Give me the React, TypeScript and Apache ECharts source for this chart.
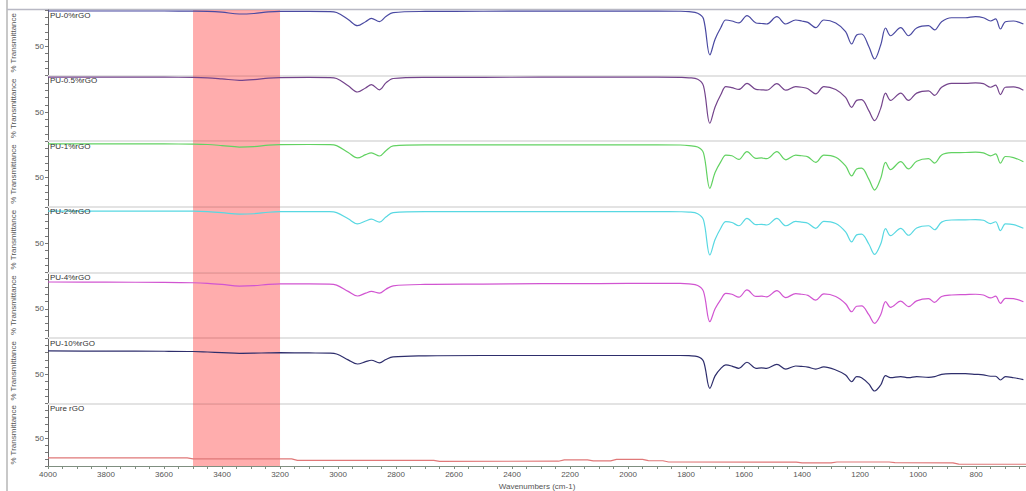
import { useEffect, useRef } from "react";
import * as echarts from "echarts";

// Shared wavenumber grid (cm-1) for the PU film spectra
const wavenumbers = [
  4000, 3800, 3600, 3500, 3450, 3400, 3340, 3290, 3240, 3200, 3100, 3030, 3005, 2965, 2933, 2905,
  2885, 2857, 2835, 2810, 2700, 2500, 2300, 2100, 1900, 1820, 1790, 1760, 1740, 1718, 1700, 1680,
  1663, 1642, 1618, 1590, 1559, 1540, 1522, 1487, 1456, 1422, 1401, 1380, 1353, 1325, 1284, 1250,
  1229, 1212, 1195, 1170, 1150, 1129, 1112, 1095, 1060, 1033, 1005, 964, 943, 919, 885, 837, 802,
  775, 750, 733, 716, 699, 671, 637,
];

const pu0 = [
  98.6, 98.6, 98.6, 98.5, 98.2, 97, 94.5, 95.2, 97.3, 98, 98, 97.8, 96.5, 87, 78.5, 84,
  88.5, 84, 91, 96.5, 98, 98.3, 98.5, 98.5, 98.5, 98.3, 97.7, 95.5, 88, 38.3, 60, 76,
  86.3, 84.9, 82.2, 92.2, 82.2, 81.5, 80.8, 90.8, 80.8, 86.3, 84.9, 83, 75.7, 86.3, 82.2, 70.2,
  53.4, 65.7, 67.1, 50, 32.8, 52, 75.3, 64.7, 75.7, 64.7, 75.3, 78.5, 72.6, 83.9, 89.4, 89.4, 90.8,
  89.4, 84.9, 87.7, 73.9, 83.9, 84.9, 80.8,
];

const pu05 = [
  97.8, 97.8, 97.8, 97.6, 97, 95.5, 93.5, 94.5, 96.5, 97.2, 97.5, 97.3, 96, 86, 77.5, 83,
  87.5, 80.5, 90, 96, 97.5, 97.6, 97.8, 97.8, 97.8, 97.5, 97, 95, 86, 34.6, 57, 74,
  85, 83.5, 81, 89.4, 81, 80.5, 80, 89, 80, 85, 84, 82, 75, 85, 81, 70,
  56.5, 66, 67, 52, 38.3, 55, 76, 66, 76, 66, 76, 79, 73, 84, 89.4, 89.4, 90,
  89, 84, 87, 74, 84, 84.5, 80,
];

const pu1 = [
  96.2, 96.2, 96.2, 96, 95.5, 94, 92, 92.5, 94.5, 95.2, 95.5, 95.3, 94, 84.5, 77, 81.5,
  84, 79.7, 87, 93.5, 95, 95, 95, 95, 95, 94.8, 94, 92, 84, 35.4, 57, 72,
  81, 80, 75, 85.6, 76.5, 77, 76, 85.6, 74.5, 81, 80, 78.5, 71, 81, 78, 66,
  52.3, 62, 63, 48, 33, 49, 71, 61, 72, 62, 72.5, 76, 70, 81, 84.2, 84.5, 85,
  84, 80, 82.5, 69.8, 79, 77.5, 71.9,
];

const pu2 = [
  94.2, 94.2, 94.2, 94, 93.3, 92, 90, 90.5, 92.5, 93.3, 93.5, 93.3, 92, 83.5, 76.7, 80.5,
  83, 79, 86, 92, 93.3, 93.3, 93.3, 93.3, 93.3, 93.2, 92.8, 90.5, 82, 33.9, 55, 71,
  79.6, 78.5, 74, 84.2, 75.5, 76, 75, 84, 74, 80, 79, 77.5, 70.5, 80, 77, 65.5,
  52, 61.5, 62.5, 49, 34.8, 49, 70, 60.5, 70.5, 61, 71, 74, 68.5, 79, 81.9, 82, 82.5,
  81.5, 77, 79.5, 67.2, 76.5, 75.5, 70.5,
];

const pu4 = [
  86.8, 86.6, 86.3, 85.8, 85, 83.5, 81.3, 81.8, 83.5, 84.2, 84.3, 84, 82.5, 74, 67.6, 71.5,
  74, 71.7, 77, 81.5, 83.5, 84, 84.5, 84.7, 85, 85, 84.2, 82, 74, 32.4, 50, 63,
  71.3, 70, 66, 75.9, 67, 67.5, 66.5, 75, 65.5, 71, 70, 68.5, 62, 70.5, 67, 57,
  46, 53.5, 54, 42, 30.2, 42, 60, 52, 60.5, 53, 61, 64, 59, 67, 69, 69.5, 70,
  69, 65, 67.5, 57.6, 64.5, 64, 59.8,
];

const pu10 = [
  82.2, 82, 81.8, 81.5, 80.8, 80, 79, 79.2, 79.6, 79.8, 79.5, 79.2, 78, 70, 64.3, 67.5,
  69.5, 66, 70.5, 74, 75.5, 76, 76, 76, 76, 76, 75.7, 74.5, 68, 31, 48, 58.4,
  63, 61.5, 58.4, 66.7, 58.4, 59, 58.4, 63.9, 57.4, 61.6, 61, 60, 57.4, 60.3, 56.1, 49.2,
  40, 46.9, 45.5, 37, 27.3, 35.5, 48.3, 45.5, 47, 45.5, 47, 46, 47, 50.2, 51, 51, 50.2,
  49.5, 47.5, 47.5, 42.4, 47, 45.5, 43,
];

// Pure rGO is nearly flat, with small step changes
const rgoWavenumbers = [
  4000, 3520, 3500, 3160, 3140, 2670, 2650, 2240, 2220, 2140, 2120, 2060, 2040, 1950, 1930, 1880,
  1860, 1420, 1400, 1300, 1280, 1100, 1080, 880, 860, 628,
];
const rgoValues = [
  21.7, 21.7, 20.3, 20.3, 18.1, 18.1, 16.7, 16.9, 18.9, 18.9, 17.4, 17.4, 19.5, 19.5, 17.8, 17.6,
  15.8, 15.5, 14.4, 14.4, 15.8, 15.8, 14.8, 14.5, 12.6, 12.5,
];

const sampleNames = ["PU-0%rGO", "PU-0.5%rGO", "PU-1%rGO", "PU-2%rGO", "PU-4%rGO", "PU-10%rGO", "Pure rGO"];
const lineColors = ["#4a4aa2", "#74448c", "#62d262", "#58d8e2", "#d155d1", "#2e2e6c", "#e07878"];
const xLabelValues = [4000, 3800, 3600, 3400, 3200, 3000, 2800, 2600, 2400, 2200, 2000, 1800, 1600, 1400, 1200, 1000, 800];
const yLabelValue = 50;
const highlightBand = [3500, 3200];

const X_MIN = 628;
const X_MAX = 4000;
const FONT = "'Liberation Sans', Arial, sans-serif";

export default function App() {
  const ref = useRef<HTMLDivElement>(null);

  useEffect(() => {
    if (!ref.current) return;
    const chart = echarts.init(ref.current, undefined, { renderer: "svg" });

    const puSeries = [pu0, pu05, pu1, pu2, pu4, pu10];
    const panelCount = sampleNames.length;
    const top0 = 10;
    const panelH = 65.6;

    const tickValues: number[] = [];
    for (let v = 650; v <= X_MAX; v += 50) tickValues.push(v);

    const grids = sampleNames.map((_, i) => ({
      left: 48,
      right: 0,
      top: top0 + i * panelH,
      height: panelH,
    }));

    const xAxes = sampleNames.map((_, i) => {
      const last = i === panelCount - 1;
      return {
        type: "value",
        gridIndex: i,
        min: X_MIN,
        max: X_MAX,
        inverse: true,
        splitLine: { show: false },
        axisLine: {
          show: true,
          lineStyle: last ? { color: "#7f8f80", width: 1 } : { color: "#e3e3e3", width: 2 },
        },
        axisTick: last
          ? { show: true, customValues: tickValues, length: 3, lineStyle: { color: "#7f8f80" } }
          : { show: false },
        axisLabel: last
          ? {
              show: true,
              customValues: xLabelValues,
              fontSize: 8,
              color: "#555",
              fontFamily: FONT,
              margin: 4,
              formatter: (v: number) => String(Math.round(v)),
            }
          : { show: false },
        name: last ? "Wavenumbers (cm-1)" : "",
        nameLocation: "middle",
        nameGap: 16,
        nameTextStyle: { fontSize: 8, color: "#555", fontFamily: FONT },
      };
    });

    const yAxes = sampleNames.map((_, i) => ({
      type: "value",
      gridIndex: i,
      min: 10,
      max: 100,
      interval: 10,
      splitLine: { show: false },
      axisLine: { show: true, lineStyle: { color: "#666", width: 1 } },
      axisTick: { show: true, length: 3, lineStyle: { color: "#777" } },
      axisLabel: {
        fontSize: 8,
        color: "#555",
        fontFamily: FONT,
        margin: 4,
        formatter: (v: number) => (v === yLabelValue ? String(v) : ""),
      },
      name: "% Transmittance",
      nameLocation: "middle",
      nameRotate: 90,
      nameGap: 31,
      nameTextStyle: { fontSize: 8, color: "#555", fontFamily: FONT },
    }));

    const band = {
      silent: true,
      itemStyle: { color: "rgba(255, 0, 0, 0.32)" },
      data: [[{ xAxis: highlightBand[0] }, { xAxis: highlightBand[1] }]],
    };

    const series: any[] = puSeries.map((vals, i) => ({
      type: "line",
      name: sampleNames[i],
      xAxisIndex: i,
      yAxisIndex: i,
      data: wavenumbers.map((w, k) => [w, vals[k]]),
      showSymbol: false,
      smooth: 0.35,
      lineStyle: { color: lineColors[i], width: 1.2 },
      markArea: band,
    }));
    series.push({
      type: "line",
      name: sampleNames[6],
      xAxisIndex: 6,
      yAxisIndex: 6,
      data: rgoWavenumbers.map((w, k) => [w, rgoValues[k]]),
      showSymbol: false,
      lineStyle: { color: lineColors[6], width: 1.2 },
      markArea: band,
    });

    chart.setOption({
      animation: false,
      backgroundColor: "#ffffff",
      title: sampleNames.map((n, i) => ({
        text: n,
        left: 50,
        top: top0 + i * panelH + 1,
        padding: 0,
        textStyle: { fontSize: 8, fontWeight: "normal", color: "#333", fontFamily: FONT },
      })),
      grid: grids,
      xAxis: xAxes,
      yAxis: yAxes,
      series,
      graphic: [
        { type: "rect", left: 6, top: 0, shape: { width: 2, height: 491 }, style: { fill: "#c8c8c8" } },
        {
          type: "line",
          shape: { x1: 7, y1: 9.5, x2: 1026, y2: 9.5 },
          style: { stroke: "#b8b8c4", lineWidth: 1.5 },
        },
      ],
    });

    return () => chart.dispose();
  }, []);

  return (
    <div
      ref={ref}
      style={{ position: "fixed", left: 0, top: 0, width: 1026, height: 491, background: "#fff" }}
    />
  );
}
